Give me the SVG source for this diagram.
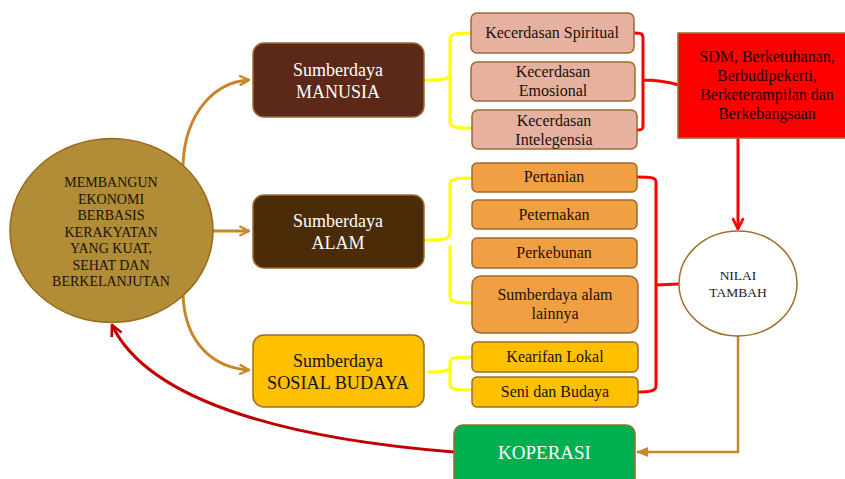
<svg xmlns="http://www.w3.org/2000/svg" width="845" height="479" viewBox="0 0 845 479">
<style>
text{font-family:"Liberation Serif","Times New Roman",serif;text-anchor:middle}
.box{stroke:#9C6B30;stroke-width:1.5}
.pink{fill:#E7B19F}
.orng{fill:#F0A042}
.yel{fill:#FFC000}
.t16{font-size:16px;fill:#1a1208}
.t18w{font-size:18px;fill:#ffffff}
.t18d{font-size:18px;fill:#1a1208}
.yb{fill:none;stroke:#FFFF00;stroke-width:3;stroke-linejoin:round}
.rb{fill:none;stroke:#FF0000;stroke-width:3;stroke-linejoin:round}
.oa{fill:none;stroke:#C8862A;stroke-width:3}
</style>
<defs>
<marker id="ao" viewBox="0 0 10 10" refX="9" refY="5" markerWidth="4" markerHeight="4" orient="auto" markerUnits="strokeWidth">
<path d="M1,1 L9,5 L1,9" fill="none" stroke="#C8862A" stroke-width="2"/>
</marker>
<marker id="ar" viewBox="0 0 10 10" refX="9" refY="5" markerWidth="4.5" markerHeight="4.5" orient="auto" markerUnits="strokeWidth">
<path d="M1,1 L9,5 L1,9" fill="none" stroke="#FF0000" stroke-width="2"/>
</marker>
<marker id="adr" viewBox="0 0 10 10" refX="9" refY="5" markerWidth="4.5" markerHeight="4.5" orient="auto" markerUnits="strokeWidth">
<path d="M1,1 L9,5 L1,9" fill="none" stroke="#C00000" stroke-width="2"/>
</marker>
<marker id="aof" viewBox="0 0 10 10" refX="9" refY="5" markerWidth="5" markerHeight="5" orient="auto" markerUnits="strokeWidth">
<path d="M0,1 L10,5 L0,9 Z" fill="#C8862A"/>
</marker>
</defs>

<g id="connectors">
<path class="oa" d="M183,165 C185,112 215,82 249,80" marker-end="url(#ao)"/>
<path class="oa" d="M213,231 L249,231" marker-end="url(#ao)"/>
<path class="oa" d="M183,295 C185,345 215,368 249,370" marker-end="url(#ao)"/>
<path class="yb" d="M424,80 C440,80 450,80 450,74 L450,39 C450,33 460,33 471,33 M450,86 L450,122 C450,128 460,128 472,128 M450,74 L450,86"/>
<path class="yb" d="M424,240 C440,240 450,240 450,234 L450,184 C450,178 460,178 472,178 M450,246 L450,297 C450,303 460,303 472,303"/>
<path class="yb" d="M428,372 C440,372 450,372 450,366 L450,362 C450,357 460,357 472,357 M450,378 L450,385 C450,390 460,390 472,390 M450,366 L450,378"/>
<path class="rb" d="M634,33 C640,33 643,33 643,38 L643,126 C643,130 640,130 637,130 M643,80 C655,80 668,82 679,85"/>
<path class="rb" d="M637,177 C650,177 656,177 656,182 L656,386 C656,391 650,392 637,392 M656,285 L679,284"/>
<path d="M738,138 L738,229" fill="none" stroke="#FF0000" stroke-width="3" marker-end="url(#ar)"/>
<path d="M738,336 L738,452 L637,452" fill="none" stroke="#C8862A" stroke-width="2.5" marker-end="url(#aof)"/>
<path d="M454,452 C300,440 150,405 112,325" fill="none" stroke="#C00000" stroke-width="3" marker-end="url(#adr)"/>
</g>

<g id="n-main">
<ellipse cx="111.5" cy="230.5" rx="101.5" ry="92" fill="#B08D36" stroke="#9C6A1C" stroke-width="1.5"/>
<text style="font-size:14px;fill:#1a1208"><tspan x="111" y="187">MEMBANGUN</tspan><tspan x="111" y="203.5">EKONOMI</tspan><tspan x="111" y="220">BERBASIS</tspan><tspan x="111" y="236.5">KERAKYATAN</tspan><tspan x="111" y="253">YANG KUAT,</tspan><tspan x="111" y="269.5">SEHAT DAN</tspan><tspan x="111" y="286">BERKELANJUTAN</tspan></text>
</g>

<g id="n-manusia">
<rect class="box" x="253" y="43" width="171" height="74" rx="11" fill="#5C2817"/>
<text class="t18w"><tspan x="338" y="76">Sumberdaya</tspan><tspan x="338" y="98">MANUSIA</tspan></text>
</g>
<g id="n-alam">
<rect class="box" x="253" y="195" width="171" height="73" rx="11" fill="#4A2C08"/>
<text class="t18w"><tspan x="338" y="227">Sumberdaya</tspan><tspan x="338" y="249">ALAM</tspan></text>
</g>
<g id="n-sosial">
<rect class="box yel" x="253" y="335" width="171" height="72" rx="11"/>
<text class="t18d"><tspan x="338" y="367">Sumberdaya</tspan><tspan x="338" y="389" textLength="142" lengthAdjust="spacingAndGlyphs">SOSIAL BUDAYA</tspan></text>
</g>

<g id="n-spiritual">
<rect class="box pink" x="471" y="13" width="163" height="40" rx="6"/>
<text class="t16" x="552" y="38">Kecerdasan Spiritual</text>
</g>
<g id="n-emosional">
<rect class="box pink" x="471" y="62" width="164" height="39" rx="6"/>
<text class="t16"><tspan x="553" y="77">Kecerdasan</tspan><tspan x="553" y="96">Emosional</tspan></text>
</g>
<g id="n-intelegensia">
<rect class="box pink" x="472" y="110" width="165" height="39" rx="6"/>
<text class="t16"><tspan x="554" y="126">Kecerdasan</tspan><tspan x="554" y="145">Intelegensia</tspan></text>
</g>

<g id="n-sdm">
<rect x="678" y="33" width="168" height="105" fill="#FF0000" stroke="#9C6B30" stroke-width="1.5"/>
<text class="t16" style="fill:#1a0000"><tspan x="767" y="62">SDM, Berketuhanan,</tspan><tspan x="767" y="81">Berbudipekerti,</tspan><tspan x="767" y="100">Berketerampilan dan</tspan><tspan x="767" y="119">Berkebangsaan</tspan></text>
</g>

<g id="n-pertanian">
<rect class="box orng" x="472" y="163" width="165" height="29" rx="5"/>
<text class="t16" x="554" y="182">Pertanian</text>
</g>
<g id="n-peternakan">
<rect class="box orng" x="472" y="200" width="165" height="29" rx="5"/>
<text class="t16" x="554" y="220">Peternakan</text>
</g>
<g id="n-perkebunan">
<rect class="box orng" x="472" y="238" width="165" height="30" rx="5"/>
<text class="t16" x="554" y="258">Perkebunan</text>
</g>
<g id="n-sdalam">
<rect class="box orng" x="472" y="276" width="166" height="57" rx="9"/>
<text class="t16"><tspan x="555" y="300">Sumberdaya alam</tspan><tspan x="555" y="319">lainnya</tspan></text>
</g>
<g id="n-kearifan">
<rect class="box yel" x="472" y="342" width="166" height="30" rx="5"/>
<text class="t16" x="555" y="362">Kearifan Lokal</text>
</g>
<g id="n-seni">
<rect class="box yel" x="472" y="377" width="166" height="30" rx="5"/>
<text class="t16" x="555" y="397">Seni dan Budaya</text>
</g>

<g id="n-nilai">
<ellipse cx="738" cy="283.5" rx="59" ry="52.5" fill="#ffffff" stroke="#A0702A" stroke-width="1.5"/>
<text style="font-size:13.5px;fill:#222"><tspan x="738" y="280">NILAI</tspan><tspan x="738" y="297">TAMBAH</tspan></text>
</g>

<g id="n-koperasi">
<rect class="box" x="454" y="425" width="181" height="62" rx="9" fill="#00B050"/>
<text class="t18w" x="544.5" y="459" style="font-size:19px">KOPERASI</text>
</g>
</svg>
